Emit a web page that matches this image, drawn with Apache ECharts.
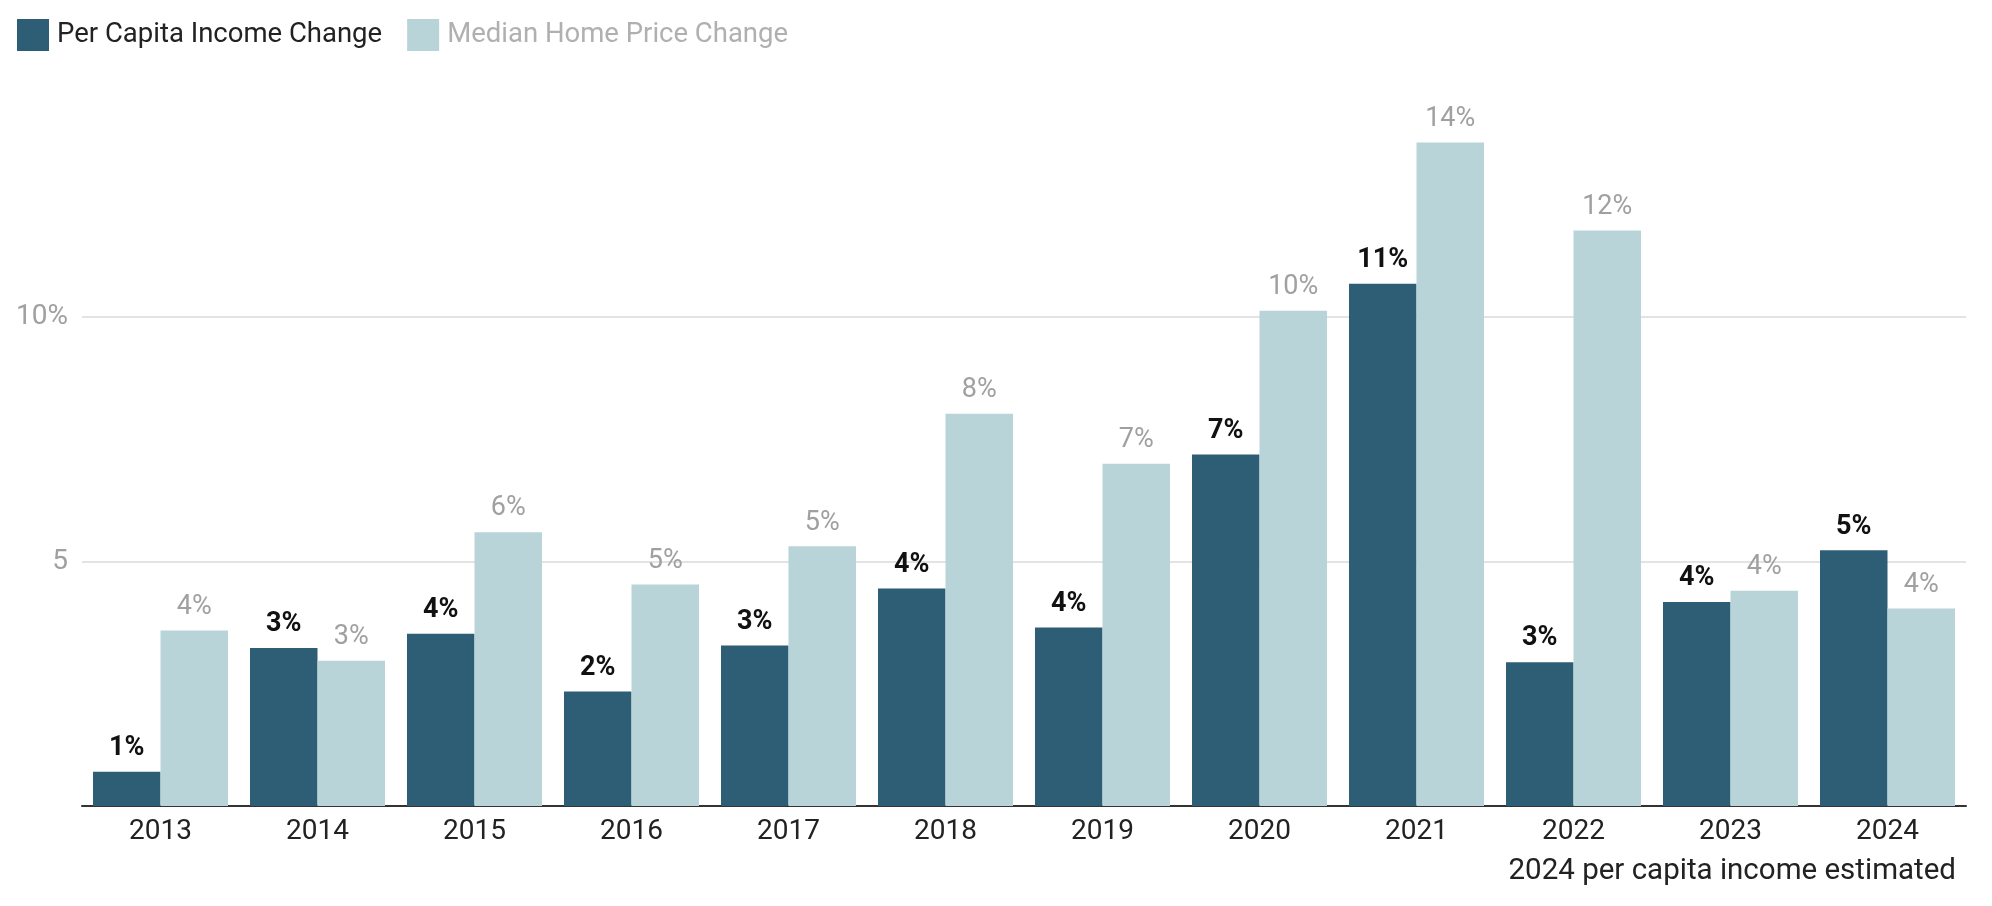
<!DOCTYPE html>
<html>
<head>
<meta charset="utf-8">
<script src="https://cdn.jsdelivr.net/npm/echarts@6/dist/echarts.min.js"></script>
<style>
html,body{margin:0;padding:0;background:#fff;}
#chart{width:1992px;height:906px;}
</style>
</head>
<body>
<div id="chart"></div>
<script>
const categories = ['2013','2014','2015','2016','2017','2018','2019','2020','2021','2022','2023','2024'];
const incomeChange = [0.70, 3.23, 3.52, 2.34, 3.28, 4.45, 3.65, 7.19, 10.68, 2.94, 4.17, 5.23];
const homePriceChange = [3.59, 2.97, 5.60, 4.53, 5.31, 8.02, 7.00, 10.13, 13.57, 11.77, 4.40, 4.04];
const seriesNames = ['Per Capita Income Change', 'Median Home Price Change'];
const yTickLabels = {5: '5', 10: '10%'};
const footnote = '2024 per capita income estimated';

const FONT = 'Roboto, "Noto Sans", sans-serif';
const chart = echarts.init(document.getElementById('chart'));
chart.setOption({
  animation: false,
  textStyle: {fontFamily: FONT},
  title: {
    text: footnote,
    right: 36,
    top: 857,
    padding: 0,
    textStyle: {fontFamily: FONT, fontSize: 29.5, fontWeight: 'normal', color: '#222'}
  },
  legend: {
    left: 17,
    top: 19,
    padding: 0,
    itemWidth: 32,
    itemHeight: 32,
    itemGap: 25,
    icon: 'rect',
    textStyle: {fontFamily: FONT, fontSize: 27.5, padding: [0, 0, 0, 3]},
    data: [
      {name: seriesNames[0], textStyle: {color: '#222'}},
      {name: seriesNames[1], textStyle: {color: '#b0b0b0'}}
    ]
  },
  grid: {left: 82, right: 26, top: 72.5, bottom: 100, containLabel: false},
  xAxis: {
    type: 'category',
    data: categories,
    axisLine: {lineStyle: {color: '#333', width: 2}},
    axisTick: {show: false},
    axisLabel: {fontFamily: FONT, fontSize: 28, color: '#222', margin: 12}
  },
  yAxis: {
    type: 'value',
    min: 0,
    max: 15,
    interval: 5,
    axisLine: {show: false},
    axisTick: {show: false},
    splitLine: {lineStyle: {color: '#e3e3e3', width: 2}, showMinLine: false, showMaxLine: false},
    axisLabel: {
      fontFamily: FONT, fontSize: 28, color: '#a0a0a0', margin: 14,
      showMinLabel: false, showMaxLabel: false,
      formatter: v => (yTickLabels[v] !== undefined ? yTickLabels[v] : '')
    }
  },
  series: [
    {
      name: seriesNames[0],
      type: 'bar',
      data: incomeChange,
      barGap: '0%',
      barCategoryGap: '14%',
      itemStyle: {color: '#2e5e76'},
      label: {
        show: true, position: 'top', distance: 10,
        fontFamily: FONT, fontSize: 27, fontWeight: 'bold', color: '#111',
        formatter: p => Math.round(p.value) + '%'
      }
    },
    {
      name: seriesNames[1],
      type: 'bar',
      data: homePriceChange,
      barGap: '0%',
      barCategoryGap: '14%',
      itemStyle: {color: '#b8d4d8'},
      label: {
        show: true, position: 'top', distance: 10,
        fontFamily: FONT, fontSize: 27, color: '#a0a0a0',
        formatter: p => Math.round(p.value) + '%'
      }
    }
  ]
});
</script>
</body>
</html>
